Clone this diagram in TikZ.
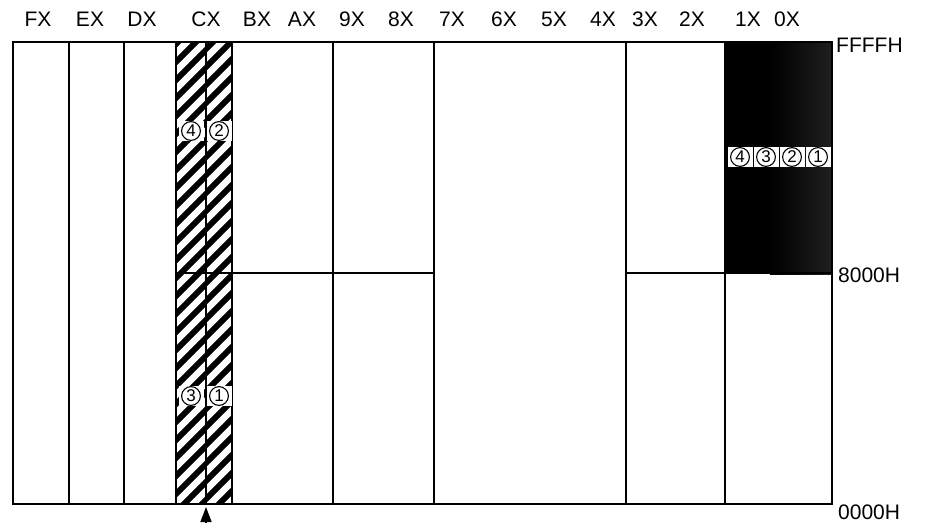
\documentclass[tikz,border=0pt]{standalone}
\usepackage{fontspec}
\setmainfont{Liberation Sans}
\usetikzlibrary{arrows.meta, calc}

\tikzset{
  cadre/.style={line width=1.8pt},
  trait/.style={line width=1.5pt},
  repere/.style={font=\fontsize{21}{21}\selectfont, inner sep=0pt, anchor=base},
  numero/.style={fill=white, inner sep=0pt, minimum width=25pt, minimum height=20pt,
    font=\fontsize{17}{17}\selectfont,
    path picture={\draw[line width=1.1pt] (path picture bounding box.center) circle (9.4pt);}},
}

\begin{document}
\begin{tikzpicture}[x=1pt, y=-1pt]
    \useasboundingbox (0,0) rectangle (928,522);

    % Colonnes hachurees (CX)
    \foreach \xa/\xb/\dec in {176/206/0, 206/232/5} {
      \begin{scope}
        \clip (\xa,42) rectangle (\xb,504);
        \fill[black] (\xa,42) rectangle (\xb,504);
        \foreach \c in {40,58,...,580}
          \draw[white, line width=6.4pt] ({\xa-5},{\c+\dec}) -- ({\xb+5},{\c+\dec-\xb+\xa-10});
      \end{scope}
    }

    % Zone sombre (1X, 0X)
    \fill[black] (725,42) rectangle (832,274);
    \shade[left color=black, right color=black!88!white] (770,42) rectangle (832,274);

    % Grille
    \draw[cadre] (13,42) rectangle (832,504);
    \foreach \x in {69,124,176,206,232,333,434,626,725}
      \draw[trait] (\x,42) -- (\x,504);
    \draw[trait] (176,273) -- (434,273);
    \draw[trait] (626,273) -- (832,273);

    % Reperes
    \node[numero] (h4) at (191,131) {4};
    \node[numero] (h2) at (219,131) {2};
    \node[numero] (h3) at (191,396) {3};
    \node[numero] (h1) at (219,396) {1};
    \foreach \n/\x in {4/740, 3/766, 2/792, 1/818}
      \node[numero] (s\n) at (\x,157) {\n};

    % Adresses de colonnes
    \foreach \t/\x in {FX/38, EX/90, DX/142, CX/206, BX/257, AX/302, 9X/352, 8X/401,
                       7X/452, 6X/504, 5X/554, 4X/603, 3X/645, 2X/692, 1X/748, 0X/787}
      \node[repere] (col\t) at (\x,27) {\t};

    \node[repere, anchor=base west] (haut) at (836,52) {FFFFH};
    \node[repere, anchor=base west] (milieu) at (838,282) {8000H};
    \node[repere, anchor=base west] (bas) at (838,519) {0000H};

    % Pointeur
    \coordinate (pied) at (206,532);
    \coordinate (pointe) at (206,507);
    \draw[line width=1.5pt, -{Triangle[width=11pt,length=15pt]}] (pied) -- (pointe);
\end{tikzpicture}
\end{document}
